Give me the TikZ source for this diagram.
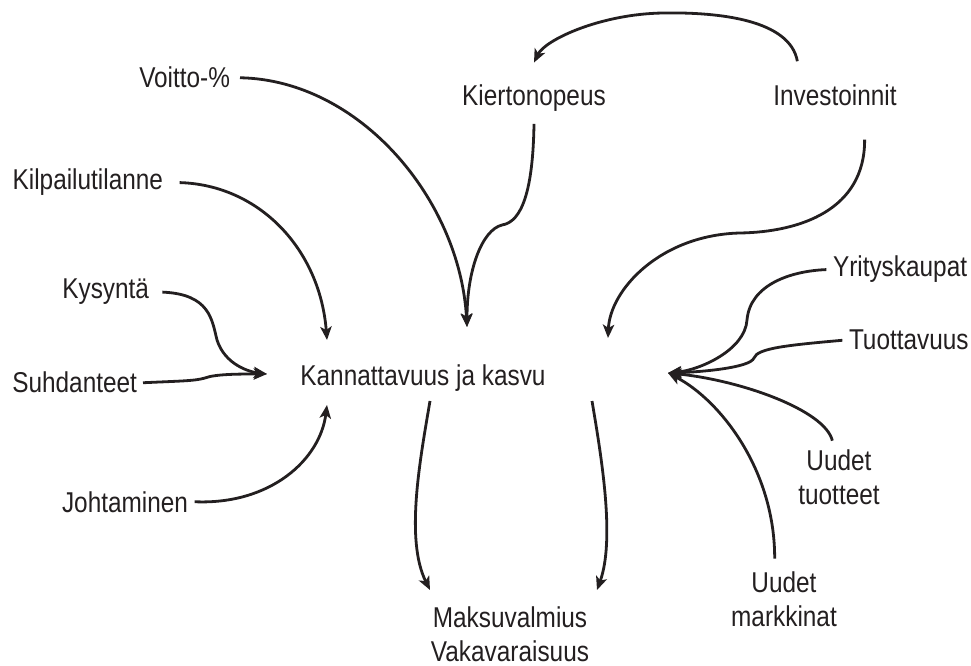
\documentclass[tikz,border=0pt]{standalone}
\usepackage{fontspec}
\setmainfont{Liberation Sans}[FakeStretch=0.85]
\usetikzlibrary{arrows.meta}
\definecolor{ink}{HTML}{231F20}

\begin{document}
\begin{tikzpicture}[x=0.75pt, y=-0.75pt,
	lbl/.style={inner sep=0pt, outer sep=0pt, text=ink, font=\fontsize{21.5}{25.5}\selectfont},
	conn/.style={ink, line width=2.1pt, -{Stealth[length=10pt, width=8.5pt, inset=2.5pt]}}]
	\useasboundingbox (0,0) rectangle (971,666);

	% centre and result
	\node [lbl, anchor=base] (kk) at (423,386) {Kannattavuus ja kasvu};
	\node [lbl, anchor=north, align=center] (maksu) at (510,607) {Maksuvalmius\\Vakavaraisuus};

	% factors
	\node [lbl, anchor=base east] (voitto) at (230,88) {Voitto-\%};
	\node [lbl, anchor=base east] (kilp) at (163,190) {Kilpailutilanne};
	\node [lbl, anchor=base east] (kys) at (149,299) {Kysyntä};
	\node [lbl, anchor=base east] (suhd) at (137,393) {Suhdanteet};
	\node [lbl, anchor=base east] (joht) at (188,512) {Johtaminen};
	\node [lbl, anchor=base] (kier) at (534,106) {Kiertonopeus};
	\node [lbl, anchor=base] (inv) at (835,106) {Investoinnit};
	\node [lbl, anchor=base west] (yrit) at (833,277) {Yrityskaupat};
	\node [lbl, anchor=base west] (tuot) at (849,350) {Tuottavuus};
	\node [lbl, anchor=north, align=center] (uut) at (839,450) {Uudet\\tuotteet};
	\node [lbl, anchor=north, align=center] (uum) at (784,572) {Uudet\\markkinat};

	% where the arrows meet the centre
	\coordinate (kkN) at (467,327);
	\coordinate (kkNE) at (608,338);
	\coordinate (kkNW) at (327,340);
	\coordinate (kkW) at (267,374);
	\coordinate (kkSW) at (327,405);
	\coordinate (kkE) at (668,373);
	\coordinate (kkSL) at (430,401);
	\coordinate (kkSR) at (592,401);
	\coordinate (mkL) at (430,590);
	\coordinate (mkR) at (597,590);

	\draw [conn] ([xshift=7.5pt]voitto.east) .. controls (360,80) and (460,200) .. (kkN);
	\draw [conn] ([yshift=-9pt]kier.south) .. controls (533,190) and (522,222) .. (502,225)
		.. controls (482,230) and (467,270) .. (kkN);
	\draw [conn] ([xshift=12.5pt]kilp.east) .. controls (260,185) and (320,250) .. (kkNW);
	\draw [conn] ([xshift=10pt]kys.east) .. controls (210,294) and (212,320) .. (217,340)
		.. controls (225,365) and (250,372) .. (kkW);
	\draw [conn] ([xshift=4.5pt]suhd.east) .. controls (180,381) and (195,381) .. (205,378)
		.. controls (215,374) and (240,374) .. (kkW);
	\draw [conn] ([xshift=5pt]joht.east) .. controls (270,505) and (320,460) .. (kkSW);

	\draw [conn] ([shift={(18pt,18pt)}]inv.north west) .. controls (790,20) and (720,12) .. (663,13)
		.. controls (600,14) and (545,40) .. ([yshift=17pt]kier.north);
	\draw [conn] ([shift={(-24pt,-25pt)}]inv.south east) .. controls (865,210) and (800,232) .. (740,233)
		.. controls (660,235) and (610,290) .. (kkNE);

	\draw [conn] ([xshift=-5pt]yrit.west) .. controls (790,271) and (750,285) .. (747,320)
		.. controls (745,350) and (700,370) .. (kkE);
	\draw [conn] ([xshift=-5pt]tuot.west) .. controls (790,345) and (757,348) .. (754,358)
		.. controls (750,368) and (700,372) .. (kkE);
	\draw [conn] ([shift={(-5pt,7pt)}]uut.north) .. controls (825,410) and (740,380) .. (kkE);
	\draw [conn] ([shift={(-7pt,10pt)}]uum.north) .. controls (775,470) and (720,400) .. (kkE);

	\draw [conn] (kkSL) .. controls (420,460) and (405,540) .. (mkL);
	\draw [conn] (kkSR) .. controls (602,460) and (615,540) .. (mkR);
\end{tikzpicture}
\end{document}
